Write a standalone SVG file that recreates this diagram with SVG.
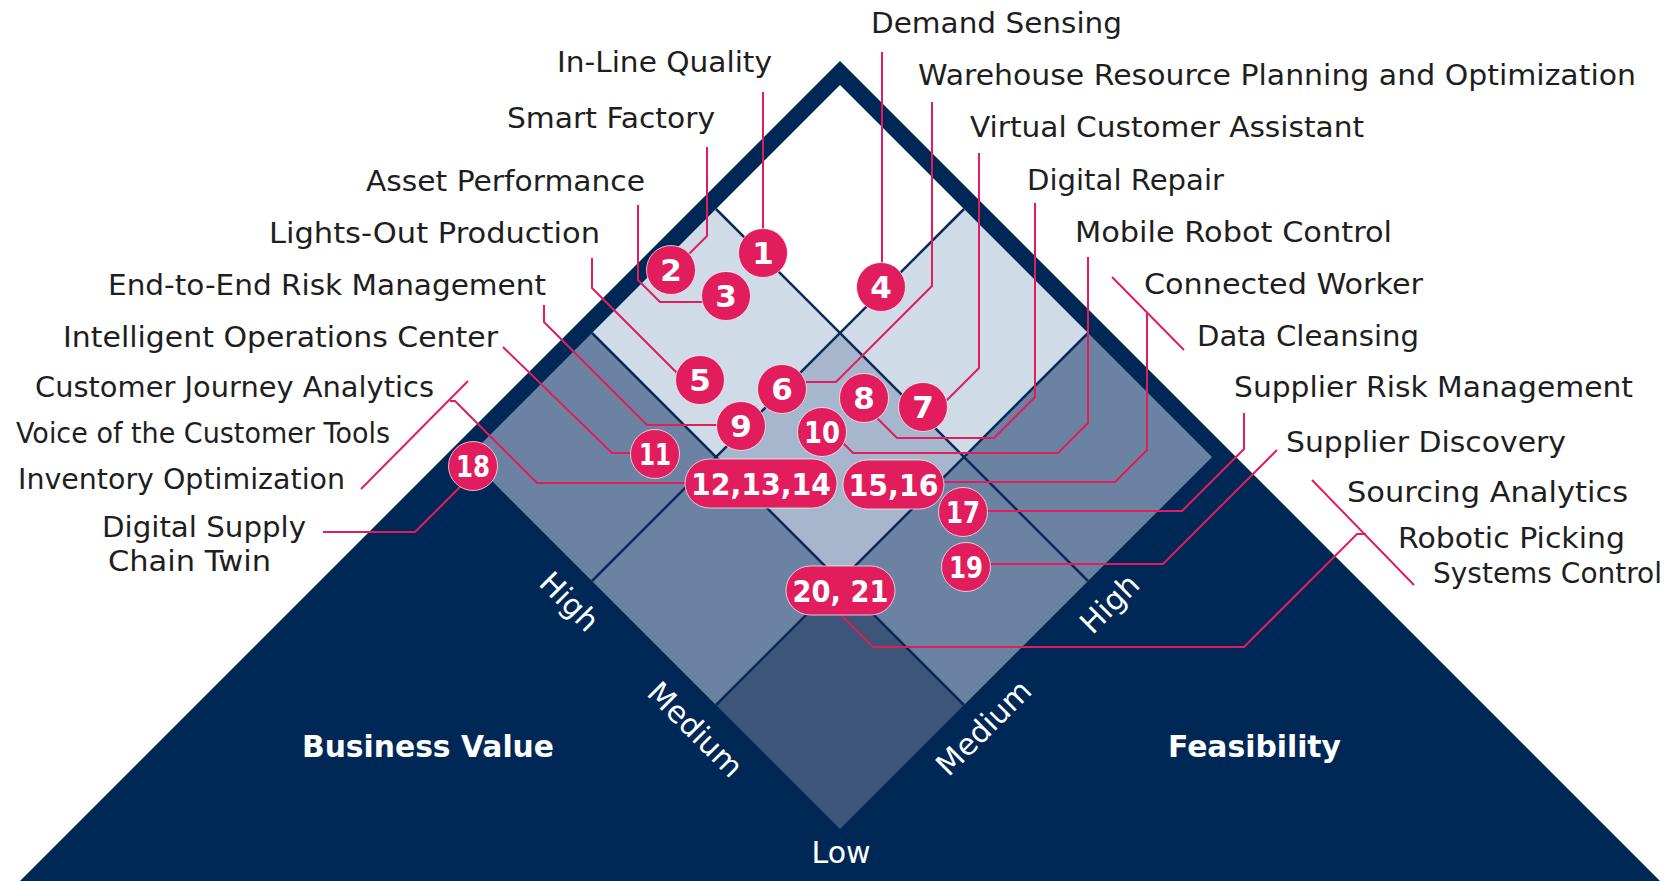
<svg xmlns="http://www.w3.org/2000/svg" width="1670" height="881" viewBox="0 0 1670 881">
<style>
.lbl{font-family:"DejaVu Sans","Liberation Sans",sans-serif;font-size:29px;fill:#1e1e1e}
.ax{font-family:"DejaVu Sans","Liberation Sans",sans-serif;font-size:30px;fill:#ffffff}
.axb{font-family:"DejaVu Sans","Liberation Sans",sans-serif;font-size:30px;font-weight:bold;fill:#ffffff}
.num{font-family:"DejaVu Sans","Liberation Sans",sans-serif;font-size:31px;font-weight:bold;fill:#ffffff;text-anchor:middle}
.b{fill:#e11d5e;stroke:#ffffff;stroke-width:1;stroke-opacity:0.7}
.conn{fill:none;stroke:#e11d5e;stroke-width:2;stroke-linejoin:miter}
.grid{stroke:#0b2a57;stroke-width:2.5;fill:none}
</style>
<g id="pyramid">
<polygon points="840,61 20,881 1660,881" fill="#002856"/>
<polygon points="840,85 964,209 840,333 716,209" fill="#ffffff"/>
<polygon points="716,209 840,333 716,457 592,333" fill="#cfdbe7"/>
<polygon points="964,209 1088,333 964,457 840,333" fill="#cfdbe7"/>
<polygon points="840,333 964,457 840,581 716,457" fill="#a6b7cd"/>
<polygon points="592,333 716,457 592,581 468,457" fill="#6c82a2"/>
<polygon points="1088,333 1212,457 1088,581 964,457" fill="#6c82a2"/>
<polygon points="716,457 840,581 716,705 592,581" fill="#6c82a2"/>
<polygon points="964,457 1088,581 964,705 840,581" fill="#6c82a2"/>
<polygon points="840,581 964,705 840,829 716,705" fill="#3d5579"/>
<line class="grid" x1="716" y1="209" x2="1088" y2="581"/>
<line class="grid" x1="592" y1="333" x2="964" y2="705"/>
<line class="grid" x1="964" y1="209" x2="592" y2="581"/>
<line class="grid" x1="1088" y1="333" x2="716" y2="705"/>
</g>
<g id="axis-labels">
<text class="ax" x="562" y="609" text-anchor="middle" transform="rotate(45 562 609)">High</text>
<text class="ax" x="688" y="737" text-anchor="middle" transform="rotate(45 688 737)">Medium</text>
<text class="ax" x="841" y="863" text-anchor="middle">Low</text>
<text class="ax" x="991" y="735" text-anchor="middle" transform="rotate(-45 991 735)">Medium</text>
<text class="ax" x="1117" y="611" text-anchor="middle" transform="rotate(-45 1117 611)">High</text>
<text class="axb" x="302" y="757" textLength="252" lengthAdjust="spacingAndGlyphs">Business Value</text>
<text class="axb" x="1168" y="757" textLength="173" lengthAdjust="spacingAndGlyphs">Feasibility</text>
</g>
<g id="connectors">
<path class="conn" d="M763,92 V253"/>
<path class="conn" d="M707,147 V236 L673,270"/>
<path class="conn" d="M638,205 V280 L660,302 H726"/>
<path class="conn" d="M882,52 V287"/>
<path class="conn" d="M592,258 V288 L684,380"/>
<path class="conn" d="M932,102 V286 L836,382 H782"/>
<path class="conn" d="M979,153 V368 L938,409"/>
<path class="conn" d="M1035,203 V397 L994,438 H897 L872,413"/>
<path class="conn" d="M544,305 V322 L647,425 H741"/>
<path class="conn" d="M1088,257 V423 L1058,453 H853 L835,435"/>
<path class="conn" d="M503,347 L612,453 H655"/>
<path class="conn" d="M468,381 L361,489"/>
<path class="conn" d="M450,401 H455 L537,483 H761"/>
<path class="conn" d="M1112,277 L1184,350"/>
<path class="conn" d="M1147,312 V450 L1115,482 H893"/>
<path class="conn" d="M1244,413 V449 L1182,511 H963"/>
<path class="conn" d="M323,532 H415 L467,480"/>
<path class="conn" d="M1277,450 L1163,564 H966"/>
<path class="conn" d="M1312,480 L1414,585"/>
<path class="conn" d="M1366,534 H1357 L1244,647 H873 L841,615"/>
</g>
<g id="n1"><circle class="b" cx="763" cy="253" r="24.5"/><text class="num" x="763" y="264">1</text></g>
<g id="n2"><circle class="b" cx="671" cy="270" r="24.5"/><text class="num" x="671" y="281">2</text></g>
<g id="n3"><circle class="b" cx="726" cy="296" r="24.5"/><text class="num" x="726" y="307">3</text></g>
<g id="n4"><circle class="b" cx="881" cy="287" r="24.5"/><text class="num" x="881" y="298">4</text></g>
<g id="n5"><circle class="b" cx="700" cy="380" r="24.5"/><text class="num" x="700" y="391">5</text></g>
<g id="n6"><circle class="b" cx="782" cy="389" r="24.5"/><text class="num" x="782" y="400">6</text></g>
<g id="n7"><circle class="b" cx="923" cy="407" r="24.5"/><text class="num" x="923" y="418">7</text></g>
<g id="n8"><circle class="b" cx="864" cy="398" r="24.5"/><text class="num" x="864" y="409">8</text></g>
<g id="n9"><circle class="b" cx="741" cy="426" r="24.5"/><text class="num" x="741" y="437">9</text></g>
<g id="n10"><circle class="b" cx="822" cy="432" r="24.5"/><text class="num" x="822" y="443" textLength="36" lengthAdjust="spacingAndGlyphs">10</text></g>
<g id="n11"><circle class="b" cx="655" cy="454" r="24.5"/><text class="num" x="655" y="465" textLength="32" lengthAdjust="spacingAndGlyphs">11</text></g>
<g id="n12-14"><rect class="b" x="685" y="459" width="152" height="49" rx="24.5"/><text class="num" x="761" y="495" textLength="140" lengthAdjust="spacingAndGlyphs">12,13,14</text></g>
<g id="n15-16"><rect class="b" x="843" y="460" width="101" height="49" rx="24.5"/><text class="num" x="893.5" y="496" textLength="90" lengthAdjust="spacingAndGlyphs">15,16</text></g>
<g id="n17"><circle class="b" cx="963" cy="512" r="24.5"/><text class="num" x="963" y="523" textLength="34" lengthAdjust="spacingAndGlyphs">17</text></g>
<g id="n18"><circle class="b" cx="473" cy="466" r="24.5"/><text class="num" x="473" y="477" textLength="34" lengthAdjust="spacingAndGlyphs">18</text></g>
<g id="n19"><circle class="b" cx="966" cy="567" r="24.5"/><text class="num" x="966" y="578" textLength="34" lengthAdjust="spacingAndGlyphs">19</text></g>
<g id="n20-21"><rect class="b" x="786" y="566" width="109" height="49" rx="24.5"/><text class="num" x="840.5" y="602" textLength="96" lengthAdjust="spacingAndGlyphs">20, 21</text></g>
<g id="labels-left">
<text class="lbl" x="557" y="72" textLength="215" lengthAdjust="spacingAndGlyphs">In-Line Quality</text>
<text class="lbl" x="507" y="128" textLength="208" lengthAdjust="spacingAndGlyphs">Smart Factory</text>
<text class="lbl" x="366" y="191" textLength="279" lengthAdjust="spacingAndGlyphs">Asset Performance</text>
<text class="lbl" x="269" y="243" textLength="331" lengthAdjust="spacingAndGlyphs">Lights-Out Production</text>
<text class="lbl" x="108" y="295" textLength="438" lengthAdjust="spacingAndGlyphs">End-to-End Risk Management</text>
<text class="lbl" x="63" y="347" textLength="435" lengthAdjust="spacingAndGlyphs">Intelligent Operations Center</text>
<text class="lbl" x="35" y="397" textLength="399" lengthAdjust="spacingAndGlyphs">Customer Journey Analytics</text>
<text class="lbl" x="16" y="443" textLength="374" lengthAdjust="spacingAndGlyphs">Voice of the Customer Tools</text>
<text class="lbl" x="18" y="489" textLength="327" lengthAdjust="spacingAndGlyphs">Inventory Optimization</text>
<text class="lbl" x="102" y="537" textLength="204" lengthAdjust="spacingAndGlyphs">Digital Supply</text>
<text class="lbl" x="108" y="571" textLength="163" lengthAdjust="spacingAndGlyphs">Chain Twin</text>
</g>
<g id="labels-right">
<text class="lbl" x="871" y="33" textLength="251" lengthAdjust="spacingAndGlyphs">Demand Sensing</text>
<text class="lbl" x="918" y="85" textLength="718" lengthAdjust="spacingAndGlyphs">Warehouse Resource Planning and Optimization</text>
<text class="lbl" x="970" y="137" textLength="394" lengthAdjust="spacingAndGlyphs">Virtual Customer Assistant</text>
<text class="lbl" x="1027" y="190" textLength="197" lengthAdjust="spacingAndGlyphs">Digital Repair</text>
<text class="lbl" x="1075" y="242" textLength="317" lengthAdjust="spacingAndGlyphs">Mobile Robot Control</text>
<text class="lbl" x="1144" y="294" textLength="279" lengthAdjust="spacingAndGlyphs">Connected Worker</text>
<text class="lbl" x="1197" y="346" textLength="222" lengthAdjust="spacingAndGlyphs">Data Cleansing</text>
<text class="lbl" x="1234" y="397" textLength="399" lengthAdjust="spacingAndGlyphs">Supplier Risk Management</text>
<text class="lbl" x="1286" y="452" textLength="280" lengthAdjust="spacingAndGlyphs">Supplier Discovery</text>
<text class="lbl" x="1347" y="502" textLength="281" lengthAdjust="spacingAndGlyphs">Sourcing Analytics</text>
<text class="lbl" x="1398" y="548" textLength="227" lengthAdjust="spacingAndGlyphs">Robotic Picking</text>
<text class="lbl" x="1433" y="583" textLength="229" lengthAdjust="spacingAndGlyphs">Systems Control</text>
</g>
</svg>
